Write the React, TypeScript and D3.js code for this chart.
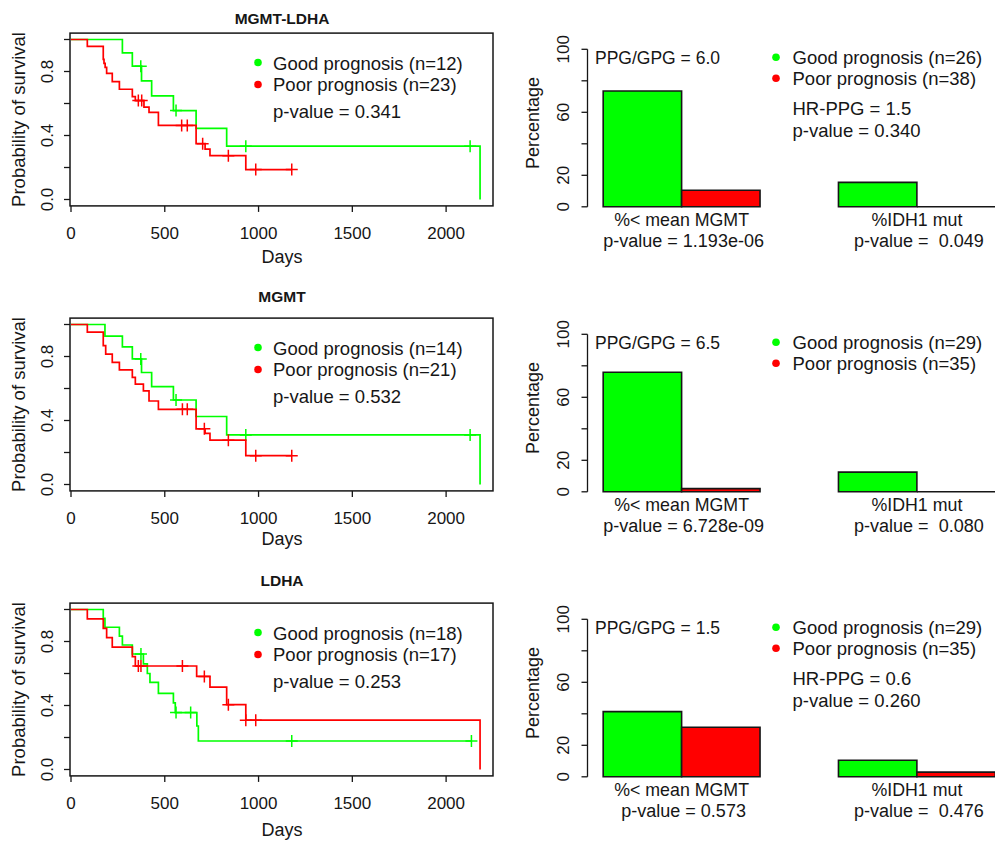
import React from "react";
import * as d3 from "d3";

const titles = ["MGMT-LDHA", "MGMT", "LDHA"];

// Kaplan-Meier steps: event day and survival after it
const goodDays = [
  [274, 327, 376, 430, 546, 667, 830, 2181],
  [181, 274, 327, 376, 430, 546, 667, 830, 2181],
  [172, 181, 258, 274, 327, 386, 407, 421, 466, 546, 556, 671, 679],
];
const goodSurv = [
  [0.917, 0.833, 0.741, 0.648, 0.556, 0.444, 0.333, 0],
  [0.927, 0.86, 0.785, 0.7, 0.612, 0.528, 0.425, 0.31, 0],
  [0.944, 0.889, 0.833, 0.778, 0.722, 0.66, 0.6, 0.545, 0.476, 0.417, 0.356, 0.272, 0.178],
];
const goodCensor = [
  [372, 560, 932, 2128],
  [372, 560, 932, 2128],
  [373, 560, 638, 1177, 2135],
];
const poorDays = [
  [87, 172, 176, 182, 190, 220, 258, 327, 343, 389, 416, 466, 667, 715, 741, 932],
  [87, 172, 185, 220, 258, 327, 343, 386, 416, 466, 667, 715, 741, 932],
  [87, 172, 190, 220, 327, 343, 670, 741, 830, 932, 2181],
];
const poorSurv = [
  [0.957, 0.876, 0.851, 0.826, 0.788, 0.737, 0.689, 0.643, 0.618, 0.577, 0.544, 0.463, 0.349, 0.315, 0.274, 0.187],
  [0.952, 0.868, 0.815, 0.763, 0.717, 0.669, 0.627, 0.585, 0.522, 0.47, 0.348, 0.319, 0.277, 0.18],
  [0.941, 0.882, 0.824, 0.765, 0.706, 0.647, 0.582, 0.515, 0.405, 0.308, 0],
];
const poorCensor = [
  [359, 377, 590, 620, 702, 839, 985, 1177],
  [594, 620, 711, 839, 985, 1177],
  [359, 373, 594, 711, 839, 932, 985],
];
const kmGoodN = [12, 14, 18];
const kmPoorN = [23, 21, 17];
const kmPvalue = ["0.341", "0.532", "0.253"];
const dayTicks = [0, 500, 1000, 1500, 2000];
const survTicks = [0, 0.2, 0.4, 0.6, 0.8, 1];
const survLabels = [0, 0.4, 0.8];

// bar charts (percent)
const barGroups = ["%< mean MGMT", "%IDH1 mut"];
const mgmtGood = [73.5, 75.9, 41.4];
const mgmtPoor = [10.5, 2.0, 31.5];
const idhGood = [15.5, 12.5, 10.5];
const idhPoor = [0, 0, 3.0];
const mgmtPvalue = ["1.193e-06", "6.728e-09", "0.573"];
const idhPvalue = [" 0.049", " 0.080", " 0.476"];
const barGoodN = [26, 29, 29];
const barPoorN = [38, 35, 35];
const ppgRatio = ["6.0", "6.5", "1.5"];
const hrPpg = ["1.5", null, "0.6"];
const hrPvalue = ["0.340", null, "0.260"];
const pctTicks = [0, 20, 40, 60, 80, 100];
const pctLabels = [0, 20, 60, 100];

const GREEN = "#00ff00";
const RED = "#ff0000";
const INK = "#161616";
const FONT = "'Liberation Sans', Arial, Helvetica, sans-serif";

const rowY = [0, 285, 570];
const titleY = [23.5, 17, 16];
const daysY = [263, 260, 266];

function survAt(days: number[], surv: number[], t: number) {
  let s = 1;
  days.forEach((d, k) => {
    if (d <= t) s = surv[k];
  });
  return s;
}

function KmPanel({ i }: { i: number }) {
  const oy = rowY[i];
  const x = d3.scaleLinear().domain([0, 2250]).range([71, 493]);
  const y = d3.scaleLinear().domain([0, 1]).range([oy + 199.5, oy + 39.5]);
  const pad = 0.04 * (y(0) - y(1));
  const top = y(1) - pad;
  const bottom = y(0) + pad;
  const line = d3
    .line<[number, number]>()
    .x((d) => x(d[0]))
    .y((d) => y(d[1]))
    .curve(d3.curveStepAfter);

  const curve = (days: number[], surv: number[], cens: number[], color: string) => {
    const pts: [number, number][] = [[0, 1]];
    days.forEach((d, k) => pts.push([d, surv[k]]));
    const end = Math.max(days[days.length - 1], cens.length ? cens[cens.length - 1] : 0);
    pts.push([end, surv[surv.length - 1]]);
    return (
      <g>
        <path d={line(pts) || ""} fill="none" stroke={color} strokeWidth={1.7} />
        {cens.map((c, k) => {
          const cx = x(c);
          const cy = y(survAt(days, surv, c));
          return (
            <path
              key={k}
              d={`M${cx - 6},${cy}H${cx + 6}M${cx},${cy - 6}V${cy + 6}`}
              stroke={color}
              strokeWidth={1.5}
            />
          );
        })}
      </g>
    );
  };

  const lx = 258;
  return (
    <g fontFamily={FONT} fill={INK}>
      <text x={282} y={oy + titleY[i]} textAnchor="middle" fontWeight="bold" fontSize={15.5}>
        {titles[i]}
      </text>
      {curve(goodDays[i], goodSurv[i], goodCensor[i], GREEN)}
      {curve(poorDays[i], poorSurv[i], poorCensor[i], RED)}
      <rect x={x(0) - 1} y={top} width={493 - x(0) + 1} height={bottom - top} fill="none" stroke={INK} strokeWidth={1.5} />
      {dayTicks.map((t) => (
        <g key={t}>
          <line x1={x(t)} x2={x(t)} y1={bottom} y2={bottom + 6} stroke={INK} strokeWidth={1.3} />
          <text x={x(t)} y={oy + 238.5} textAnchor="middle" fontSize={17}>
            {t}
          </text>
        </g>
      ))}
      {survTicks.map((t) => (
        <line key={t} x1={x(0) - 7} x2={x(0) - 1} y1={y(t)} y2={y(t)} stroke={INK} strokeWidth={1.3} />
      ))}
      {survLabels.map((t) => (
        <text key={t} transform={`translate(53,${y(t)}) rotate(-90)`} textAnchor="middle" fontSize={17}>
          {t.toFixed(1)}
        </text>
      ))}
      <text transform={`translate(25,${(top + bottom) / 2}) rotate(-90)`} textAnchor="middle" fontSize={18.5}>
        Probability of survival
      </text>
      <text x={282} y={oy + daysY[i]} textAnchor="middle" fontSize={18}>
        Days
      </text>
      <circle cx={lx} cy={y(1) + 23} r={3.8} fill={GREEN} />
      <text x={lx + 15} y={y(1) + 30} fontSize={18.5}>
        {`Good prognosis (n=${kmGoodN[i]})`}
      </text>
      <circle cx={lx} cy={y(1) + 45} r={3.8} fill={RED} />
      <text x={lx + 15} y={y(1) + 51.5} fontSize={18.5}>
        {`Poor prognosis (n=${kmPoorN[i]})`}
      </text>
      <text x={lx + 15} y={y(1) + 78} fontSize={18.5}>
        {`p-value = ${kmPvalue[i]}`}
      </text>
    </g>
  );
}

function BarPanel({ i }: { i: number }) {
  const oy = rowY[i];
  const x = d3.scaleLinear().domain([0.8, 6.2]).range([587.5, 1011]);
  const y = d3.scaleLinear().domain([0, 100]).range([oy + 206.8, oy + 49.3]);
  const groups = [
    [mgmtGood[i], mgmtPoor[i]],
    [idhGood[i], idhPoor[i]],
  ];
  const pvals = [mgmtPvalue[i], idhPvalue[i]];
  const ax = x(0.8);
  const lx = 776;
  const y100 = y(100);
  return (
    <g fontFamily={FONT} fill={INK}>
      {groups.map((vals, g) =>
        vals.map((v, j) => {
          const left = 1 + g * 3 + j;
          const x0 = x(left);
          const x1 = x(left + 1);
          return (
            <path
              key={`${g}-${j}`}
              d={`M${x0},${y(0)}V${y(v)}H${x1}V${y(0)}Z`}
              fill={j === 0 ? GREEN : RED}
              stroke={INK}
              strokeWidth={1.6}
            />
          );
        })
      )}
      <line x1={ax} x2={ax} y1={y(0)} y2={y(100)} stroke={INK} strokeWidth={1.3} />
      {pctTicks.map((t) => (
        <line key={t} x1={ax - 6} x2={ax} y1={y(t)} y2={y(t)} stroke={INK} strokeWidth={1.3} />
      ))}
      {pctLabels.map((t) => (
        <text key={t} transform={`translate(568.5,${y(t)}) rotate(-90)`} textAnchor="middle" fontSize={17}>
          {t}
        </text>
      ))}
      <text transform={`translate(539,${(y(0) + y(100)) / 2 - 5}) rotate(-90)`} textAnchor="middle" fontSize={18}>
        Percentage
      </text>
      {barGroups.map((name, g) => {
        const cx = x(2 + g * 3);
        return (
          <g key={name}>
            <text x={cx} y={y(0) + 19} textAnchor="middle" fontSize={17.8}>
              {name}
            </text>
            <text x={cx + 2} y={y(0) + 40} textAnchor="middle" fontSize={18} style={{ whiteSpace: "pre" }}>
              {`p-value = ${pvals[g]}`}
            </text>
          </g>
        );
      })}
      <text x={595} y={y100 + 15} fontSize={17.5}>
        {`PPG/GPG = ${ppgRatio[i]}`}
      </text>
      <circle cx={lx} cy={y100 + 8} r={3.8} fill={GREEN} />
      <text x={lx + 16.5} y={y100 + 15} fontSize={18.5}>
        {`Good prognosis (n=${barGoodN[i]})`}
      </text>
      <circle cx={lx} cy={y100 + 29} r={3.8} fill={RED} />
      <text x={lx + 16.5} y={y100 + 36} fontSize={18.5}>
        {`Poor prognosis (n=${barPoorN[i]})`}
      </text>
      {hrPpg[i] && (
        <>
          <text x={lx + 16.5} y={y100 + 66} fontSize={18.5}>
            {`HR-PPG = ${hrPpg[i]}`}
          </text>
          <text x={lx + 16.5} y={y100 + 88} fontSize={18.5}>
            {`p-value = ${hrPvalue[i]}`}
          </text>
        </>
      )}
    </g>
  );
}

export default function App() {
  return (
    <svg
      width={995}
      height={842}
      style={{ position: "absolute", left: 0, top: 0, background: "#fff", display: "block" }}
    >
      <rect width={995} height={842} fill="#fff" />
      {titles.map((_, i) => (
        <g key={i}>
          <KmPanel i={i} />
          <BarPanel i={i} />
        </g>
      ))}
    </svg>
  );
}
